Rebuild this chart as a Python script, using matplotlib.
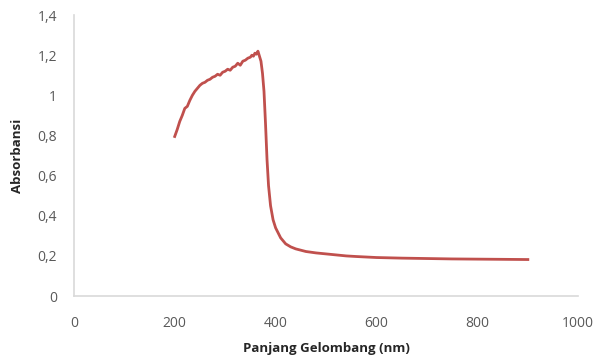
import numpy as np
import matplotlib.pyplot as plt
from matplotlib.ticker import FuncFormatter

# wavelength (nm) and absorbance
wl = [200, 205, 210, 215, 220, 225, 230, 235, 240, 245, 250, 255, 260, 265, 270,
      275, 280, 285, 290, 295, 300, 305, 310, 315, 320, 325, 330, 335, 340, 345,
      350, 353, 356, 359, 362, 365, 368, 371, 374, 377, 380, 383, 386, 390, 395,
      400, 410, 420, 430, 440, 460, 480, 500, 520, 540, 560, 600, 650, 700, 750,
      800, 850, 900]
absb = [0.795, 0.83, 0.87, 0.90, 0.935, 0.945, 0.975, 1.00, 1.02, 1.035, 1.05, 1.06, 1.065, 1.075, 1.08,
        1.09, 1.095, 1.105, 1.10, 1.115, 1.12, 1.13, 1.125, 1.14, 1.145, 1.16, 1.15, 1.17, 1.175, 1.185,
        1.19, 1.20, 1.195, 1.21, 1.205, 1.22, 1.195, 1.17, 1.11, 1.02, 0.86, 0.68, 0.55, 0.45, 0.38,
        0.34, 0.29, 0.26, 0.245, 0.235, 0.222, 0.215, 0.21, 0.205, 0.2, 0.197, 0.192, 0.189, 0.187, 0.185,
        0.184, 0.183, 0.182]

plt.rcParams['font.family'] = ['Open Sans', 'DejaVu Sans']

fig = plt.figure(figsize=(6.1, 3.58), dpi=100)
ax = fig.add_axes([0.121, 0.173, 0.827, 0.785])

ax.plot(wl, absb, color='#C0504D', lw=2.0)

ax.set_xlim(0, 1000)
ax.set_ylim(0, 1.4)
ax.set_xticks(np.arange(0, 1001, 200))
ax.set_yticks(np.arange(0, 1.41, 0.2))

def fmt(v, pos):
    s = '%.1f' % v
    if s.endswith('.0'):
        s = s[:-2]
    return s.replace('.', ',')

ax.yaxis.set_major_formatter(FuncFormatter(fmt))
ax.tick_params(length=0, labelsize=10, colors='#595959')
ax.tick_params(axis='x', pad=14)
ax.tick_params(axis='y', pad=12)

for s in ['top', 'right']:
    ax.spines[s].set_visible(False)
for s in ['left', 'bottom']:
    ax.spines[s].set_color('#D9D9D9')
    ax.spines[s].set_linewidth(1.2)

ax.set_xlabel('Panjang Gelombang (nm)', fontsize=9.5, fontweight='bold', color='#262626', labelpad=8)
ax.set_ylabel('Absorbansi', fontsize=9.5, fontweight='bold', color='#262626', labelpad=10)

fig.savefig('out.png', dpi=100)
